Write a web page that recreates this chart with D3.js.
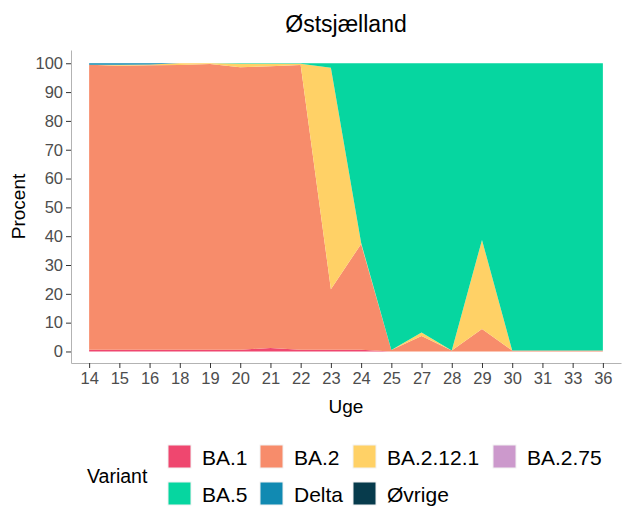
<!DOCTYPE html>
<meta charset='utf-8'>
<style>
body { margin: 0; background: #fff; }
svg { font-family: 'Liberation Sans', Arial, sans-serif; }
.axis text { font-size: 16.5px; fill: #4d4d4d; }
.axis line { stroke: #333; }
.axis path { stroke: #b3b3b3; }
</style>
<svg width='624' height='509'></svg>
<script src='https://cdnjs.cloudflare.com/ajax/libs/d3/7.8.5/d3.min.js'></script>
<script>

// weeks present in the data (some weeks are missing)
var weeks = ['14','15','16','18','19','20','21','22','23','24','25','27','28','29','30','31','33','36'];

var variants = ['BA.1','BA.2','BA.2.12.1','BA.2.75','BA.5','Delta','Øvrige'];
var colors   = ['#ef476f','#f78c6b','#ffd166','#cc99cc','#06d6a0','#118ab2','#073b4c'];

// percent per week
var ba1    = [0.6, 0.6, 0.6, 0.6, 0.6, 0.6, 1.2, 0.6, 0.6, 0.6, 0,   0,    0,   0,    0,   0,   0,   0];
var ba2    = [98.9,98.5,98.7,98.8,99.1,98.0,97.8,98.8,21.0,36.7,0.5, 5.4,  0.3, 7.8,  0.3, 0.3, 0.3, 0.3];
var ba2121 = [0,   0.4, 0.3, 0.6, 0.3, 1.2, 0.8, 0.4, 76.8,0.4, 0,   1.2,  0,   30.9, 0,   0,   0,   0];
var ba275  = [0,   0,   0,   0,   0,   0,   0,   0,   0,   0,   0,   0,    0,   0,    0,   0,   0,   0];
var ba5    = [0,   0,   0,   0,   0,   0.2, 0.2, 0.2, 1.6, 62.3,99.5,93.4, 99.7,61.3, 99.7,99.7,99.7,99.7];
var delta  = [0.5, 0.5, 0.4, 0,   0,   0,   0,   0,   0,   0,   0,   0,    0,   0,    0,   0,   0,   0];
var ovrige = [0,   0,   0,   0,   0,   0,   0,   0,   0,   0,   0,   0,    0,   0,    0,   0,   0,   0];

var series = [ba1, ba2, ba2121, ba275, ba5, delta, ovrige];

var table = weeks.map(function(w, i) {
  var row = {week: w};
  variants.forEach(function(v, j) { row[v] = series[j][i]; });
  return row;
});

var svg = d3.select('svg');

// panel box
var panelLeft = 71, panelRight = 621, panelTop = 50, panelBottom = 363;

var x = d3.scalePoint()
    .domain(weeks)
    .range([panelLeft, panelRight])
    .padding(0.6);

var y = d3.scaleLinear()
    .domain([-4, 104.6])
    .range([panelBottom, panelTop]);

var color = d3.scaleOrdinal().domain(variants).range(colors);

var stacked = d3.stack().keys(variants)(table);

var area = d3.area()
    .x(function(d) { return x(d.data.week); })
    .y0(function(d) { return y(d[0]); })
    .y1(function(d) { return y(d[1]); });

svg.append('g')
  .selectAll('path')
  .data(stacked)
  .join('path')
    .attr('fill', function(d) { return color(d.key); })
    .attr('d', area);

// axes
svg.append('g')
    .attr('class', 'axis')
    .attr('transform', 'translate(' + panelLeft + ',0)')
    .call(d3.axisLeft(y).tickValues(d3.range(0, 101, 10)).tickSize(5).tickSizeOuter(0).tickPadding(3));

svg.append('g')
    .attr('class', 'axis')
    .attr('transform', 'translate(0,' + panelBottom + ')')
    .call(d3.axisBottom(x).tickSize(5).tickSizeOuter(0).tickPadding(4));

// titles
svg.append('text')
    .attr('x', (panelLeft + panelRight) / 2)
    .attr('y', 32)
    .attr('text-anchor', 'middle')
    .style('font-size', '23px')
    .text('Østsjælland');

svg.append('text')
    .attr('x', (panelLeft + panelRight) / 2)
    .attr('y', 413)
    .attr('text-anchor', 'middle')
    .style('font-size', '19px')
    .text('Uge');

svg.append('text')
    .attr('transform', 'translate(25,' + ((panelTop + panelBottom) / 2) + ') rotate(-90)')
    .attr('text-anchor', 'middle')
    .style('font-size', '19px')
    .text('Procent');

// legend
var legend = svg.append('g');

legend.append('text')
    .attr('x', 87)
    .attr('y', 483)
    .style('font-size', '19.5px')
    .text('Variant');

var colX = [168, 260, 353, 493];

var items = legend.selectAll('g.item')
  .data(variants)
  .join('g')
    .attr('class', 'item')
    .attr('transform', function(d, i) {
      return 'translate(' + colX[i % 4] + ',' + (445 + Math.floor(i / 4) * 37) + ')';
    });

items.append('rect')
    .attr('width', 23)
    .attr('height', 23)
    .attr('fill', function(d) { return color(d); })
    .attr('stroke', '#f2f2f2')
    .attr('stroke-width', 1);

items.append('text')
    .attr('x', 34)
    .attr('y', 20)
    .style('font-size', '21px')
    .text(function(d) { return d; });

</script>
